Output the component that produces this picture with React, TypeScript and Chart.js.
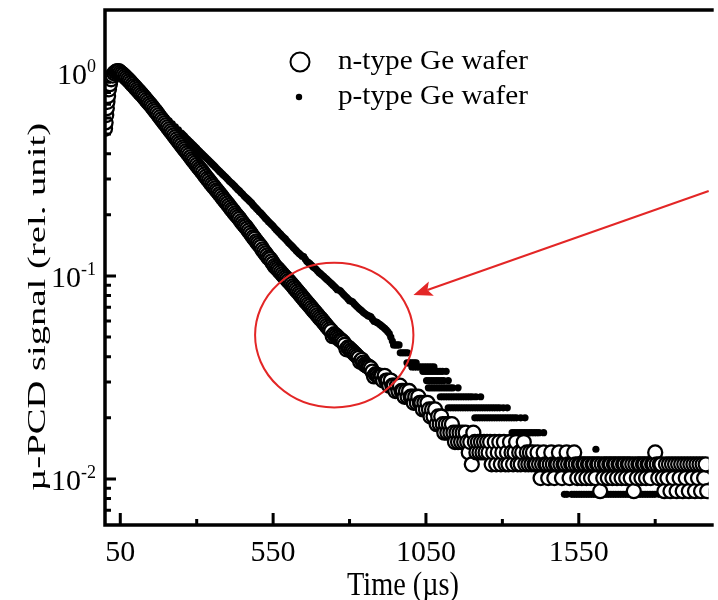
import { useEffect, useRef } from "react";
import { Chart, registerables } from "chart.js";

Chart.register(...registerables);

// ---- data (time in µs, µ-PCD signal in rel. units) ----
const nTypePoints: [number, number][] = [
  [0, 0.53], [2, 0.57], [4, 0.62], [6, 0.67], [8, 0.72], [10, 0.77], [13, 0.83], [16, 0.88], [20, 0.93], [25, 0.97],
  [30, 0.995], [35, 1.01], [40, 1.02], [45, 1.02], [50, 1.005], [55, 0.99],
  [60, 0.977], [65, 0.96], [70, 0.944], [75, 0.928], [80, 0.912], [85, 0.894], [90, 0.877], [95, 0.861], [100, 0.845], [105, 0.829],
  [110, 0.813], [115, 0.797], [120, 0.782], [125, 0.767], [130, 0.752], [135, 0.736], [140, 0.721], [145, 0.706], [150, 0.692], [155, 0.677],
  [160, 0.662], [165, 0.648], [170, 0.634], [175, 0.619], [180, 0.605], [185, 0.591], [190, 0.578], [195, 0.565], [200, 0.553], [205, 0.54],
  [210, 0.528], [215, 0.516], [220, 0.505], [225, 0.493], [230, 0.482], [235, 0.471], [240, 0.46], [245, 0.45], [250, 0.44], [255, 0.43],
  [260, 0.421], [265, 0.412], [270, 0.403], [275, 0.394], [280, 0.385], [285, 0.376], [290, 0.368], [295, 0.36], [300, 0.352], [305, 0.344],
  [310, 0.337], [315, 0.33], [320, 0.323], [325, 0.315], [330, 0.308], [335, 0.301], [340, 0.295], [345, 0.288], [350, 0.282], [355, 0.276],
  [360, 0.27], [365, 0.264], [370, 0.259], [375, 0.253], [380, 0.248], [385, 0.242], [390, 0.237], [395, 0.232], [400, 0.227], [405, 0.222],
  [410, 0.217], [415, 0.212], [420, 0.208], [425, 0.203], [430, 0.199], [435, 0.195], [440, 0.191], [445, 0.186], [450, 0.182], [455, 0.178],
  [460, 0.175], [465, 0.171], [470, 0.167], [475, 0.163], [480, 0.159], [485, 0.155], [490, 0.152], [495, 0.148], [500, 0.145], [505, 0.142],
  [510, 0.139], [515, 0.135], [520, 0.132], [525, 0.129], [530, 0.126], [535, 0.123], [540, 0.121], [545, 0.118], [550, 0.115], [555, 0.112],
  [560, 0.11], [565, 0.108], [570, 0.106], [575, 0.104], [580, 0.102], [585, 0.1], [590, 0.0982], [595, 0.0964], [600, 0.0946], [605, 0.0928],
  [610, 0.091], [615, 0.0891], [620, 0.0873], [625, 0.0855], [630, 0.0838], [635, 0.0821], [640, 0.0804], [645, 0.0787], [650, 0.0771], [655, 0.0755],
  [660, 0.074], [665, 0.0725], [670, 0.0711], [675, 0.0696], [680, 0.0682], [685, 0.0668], [690, 0.0655], [695, 0.0641], [700, 0.0628], [705, 0.0616],
  [710, 0.0604], [715, 0.0591], [720, 0.0579], [725, 0.0567], [730, 0.0556], [735, 0.0545], [740, 0.0535], [745, 0.0505], [750, 0.0516], [755, 0.0508],
  [760, 0.05], [765, 0.0491], [770, 0.0483], [775, 0.0478], [780, 0.047], [785, 0.0458], [790, 0.0435], [795, 0.0444], [800, 0.0438], [805, 0.043],
  [810, 0.0423], [815, 0.0416], [820, 0.0409], [825, 0.0402], [830, 0.0395], [835, 0.0378], [840, 0.0386], [845, 0.0374], [850, 0.0366], [855, 0.0362],
  [860, 0.0358], [865, 0.0355], [870, 0.035], [875, 0.0338], [880, 0.032], [885, 0.0328], [890, 0.0325], [895, 0.032], [900, 0.0316],
  [905, 0.0322], [910, 0.0305], [915, 0.0322], [920, 0.0305], [925, 0.0305], [930, 0.0288], [935, 0.0305], [940, 0.0288], [945, 0.0288], [950, 0.0271],
  [955, 0.0288], [960, 0.0271], [965, 0.0288], [970, 0.0271], [975, 0.0271], [980, 0.0254], [985, 0.0271], [990, 0.0254], [995, 0.0271], [1000, 0.0254],
  [1005, 0.0254], [1010, 0.0237], [1015, 0.0254], [1020, 0.0237], [1025, 0.0254], [1030, 0.0237], [1035, 0.0237], [1040, 0.022], [1045, 0.0237], [1050, 0.022],
  [1055, 0.0237], [1060, 0.022], [1065, 0.0203], [1070, 0.022], [1075, 0.0203], [1080, 0.022], [1085, 0.0186], [1090, 0.0203], [1095, 0.0186], [1100, 0.0203],
  [1105, 0.0186], [1110, 0.0169], [1115, 0.0186], [1120, 0.0169], [1125, 0.0186], [1130, 0.0169], [1135, 0.0186], [1140, 0.0169], [1145, 0.0152], [1150, 0.0169],
  [1155, 0.0152], [1160, 0.0169], [1165, 0.0152], [1170, 0.0169], [1175, 0.0152], [1180, 0.0169], [1185, 0.0152], [1190, 0.0135], [1195, 0.0152], [1200, 0.0118],
  [1205, 0.0169], [1210, 0.0152], [1215, 0.0135], [1220, 0.0152], [1225, 0.0135], [1230, 0.0152], [1235, 0.0135], [1240, 0.0152], [1245, 0.0135], [1250, 0.0152],
  [1255, 0.0135], [1260, 0.0152], [1265, 0.0118], [1270, 0.0135], [1275, 0.0152], [1280, 0.0118], [1285, 0.0135], [1290, 0.0152], [1295, 0.0118], [1300, 0.0135],
  [1305, 0.0152], [1310, 0.0118], [1315, 0.0135], [1320, 0.0118], [1325, 0.0152], [1330, 0.0135], [1335, 0.0118], [1340, 0.0135], [1345, 0.0152], [1350, 0.0118],
  [1355, 0.0135], [1360, 0.0118], [1365, 0.0135], [1370, 0.0152], [1375, 0.0118], [1380, 0.0135], [1385, 0.0118], [1390, 0.0135], [1395, 0.0118], [1400, 0.0135],
  [1405, 0.0118], [1410, 0.0118], [1415, 0.0135], [1420, 0.0118], [1425, 0.0101], [1430, 0.0118], [1435, 0.0135], [1440, 0.0118], [1445, 0.0118], [1450, 0.0101],
  [1455, 0.0118], [1460, 0.0135], [1465, 0.0118], [1470, 0.0101], [1475, 0.0118], [1480, 0.0118], [1485, 0.0135], [1490, 0.0118], [1495, 0.0101], [1500, 0.0118],
  [1505, 0.0118], [1510, 0.0135], [1515, 0.0118], [1520, 0.0101], [1525, 0.0118], [1530, 0.0118], [1535, 0.0135], [1540, 0.0118], [1545, 0.0101], [1550, 0.0118],
  [1555, 0.0118], [1560, 0.0101], [1565, 0.0118], [1570, 0.0118], [1575, 0.0101], [1580, 0.0118], [1585, 0.0118], [1590, 0.0101], [1595, 0.0118], [1600, 0.0118],
  [1605, 0.0101], [1610, 0.0118], [1615, 0.0118], [1620, 0.0087], [1625, 0.0118], [1630, 0.0101], [1635, 0.0118], [1640, 0.0118], [1645, 0.0101], [1650, 0.0118],
  [1655, 0.0118], [1660, 0.0101], [1665, 0.0118], [1670, 0.0118], [1675, 0.0101], [1680, 0.0118], [1685, 0.0118], [1690, 0.0101], [1695, 0.0118], [1700, 0.0118],
  [1705, 0.0101], [1710, 0.0118], [1715, 0.0118], [1720, 0.0101], [1725, 0.0118], [1730, 0.0087], [1735, 0.0118], [1740, 0.0101], [1745, 0.0118], [1750, 0.0118],
  [1755, 0.0101], [1760, 0.0118], [1765, 0.0118], [1770, 0.0101], [1775, 0.0118], [1780, 0.0118], [1785, 0.0101], [1790, 0.0118], [1795, 0.0118], [1800, 0.0135],
  [1805, 0.0118], [1810, 0.0101], [1815, 0.0118], [1820, 0.0118], [1825, 0.0101], [1830, 0.0087], [1835, 0.0118], [1840, 0.0101], [1845, 0.0118], [1850, 0.0087],
  [1855, 0.0118], [1860, 0.0101], [1865, 0.0118], [1870, 0.0087], [1875, 0.0118], [1880, 0.0101], [1885, 0.0118], [1890, 0.0087], [1895, 0.0118], [1900, 0.0101],
  [1905, 0.0118], [1910, 0.0087], [1915, 0.0118], [1920, 0.0101], [1925, 0.0118], [1930, 0.0087], [1935, 0.0118], [1940, 0.0101], [1945, 0.0118], [1950, 0.0087],
  [1955, 0.0118], [1960, 0.0101], [1965, 0.0118], [1970, 0.0087],
];

const pTypePoints: [number, number][] = [
  [0, 0.55], [5, 0.65], [10, 0.76], [15, 0.85], [20, 0.91], [30, 0.97], [40, 1.0], [50, 0.995],
  [60, 0.973], [70, 0.942], [80, 0.91], [90, 0.879], [100, 0.849], [110, 0.82], [120, 0.792], [130, 0.766], [140, 0.74], [150, 0.715],
  [160, 0.69], [170, 0.667], [180, 0.644], [190, 0.622], [200, 0.601], [210, 0.581], [220, 0.561], [230, 0.542], [240, 0.524],
  [250, 0.505], [255, 0.496], [260, 0.488], [265, 0.479], [270, 0.471], [275, 0.463], [280, 0.455], [285, 0.447], [290, 0.44], [295, 0.432],
  [300, 0.425], [305, 0.417], [310, 0.41], [315, 0.403], [320, 0.396], [325, 0.389], [330, 0.383], [335, 0.376], [340, 0.37], [345, 0.363],
  [350, 0.357], [355, 0.351], [360, 0.345], [365, 0.339], [370, 0.333], [375, 0.327], [380, 0.322], [385, 0.316], [390, 0.311], [395, 0.306],
  [400, 0.301], [405, 0.295], [410, 0.29], [415, 0.286], [420, 0.281], [425, 0.276], [430, 0.271], [435, 0.266], [440, 0.262], [445, 0.257],
  [450, 0.253], [455, 0.248], [460, 0.244], [465, 0.24], [470, 0.236], [475, 0.232], [480, 0.228], [485, 0.223], [490, 0.219], [495, 0.215],
  [500, 0.211], [505, 0.207], [510, 0.204], [515, 0.2], [520, 0.196], [525, 0.192], [530, 0.189], [535, 0.185], [540, 0.182], [545, 0.179],
  [550, 0.176], [555, 0.172], [560, 0.169], [565, 0.166], [570, 0.163], [575, 0.16], [580, 0.157], [585, 0.1545], [590, 0.152], [595, 0.149],
  [600, 0.146], [605, 0.1435], [610, 0.141], [615, 0.1385], [620, 0.136], [625, 0.1335], [630, 0.131], [635, 0.129], [640, 0.127], [645, 0.125],
  [650, 0.1245], [655, 0.121], [660, 0.118], [665, 0.1165], [670, 0.115], [675, 0.113], [680, 0.111], [685, 0.1095], [690, 0.108], [695, 0.106],
  [700, 0.104], [705, 0.1025], [710, 0.101], [715, 0.0995], [720, 0.0979], [725, 0.0963], [730, 0.0948], [735, 0.0933], [740, 0.0918], [745, 0.0903],
  [750, 0.0889], [755, 0.0872], [760, 0.0855], [765, 0.0852], [770, 0.0845], [775, 0.0828], [780, 0.0811], [785, 0.0798], [790, 0.0785], [795, 0.077],
  [800, 0.0755], [805, 0.0752], [810, 0.0745], [815, 0.073], [820, 0.0716], [825, 0.0704], [830, 0.0693], [835, 0.0683], [840, 0.0673], [845, 0.0662],
  [850, 0.0652], [855, 0.0645], [860, 0.0637], [865, 0.0633], [870, 0.0628], [875, 0.0612], [880, 0.0598], [885, 0.0594], [890, 0.059], [895, 0.0582],
  [900, 0.0575], [905, 0.0567], [910, 0.056], [915, 0.0551], [920, 0.0542], [925, 0.0531], [930, 0.052], [935, 0.0499], [940, 0.0478],
  [944, 0.0457], [950, 0.0457], [956, 0.0457], [962, 0.0457],
  [966, 0.0418], [972, 0.0418], [978, 0.0418], [984, 0.0418], [990, 0.0418],
  [988, 0.0373], [994, 0.0373], [1000, 0.0373], [1006, 0.0373], [1012, 0.0373], [1018, 0.0373],
  [1004, 0.0356], [1012, 0.0356], [1020, 0.0356], [1028, 0.0356], [1036, 0.0356], [1044, 0.0356], [1052, 0.0356], [1060, 0.0356], [1068, 0.0356], [1076, 0.0356],
  [1040, 0.0339], [1048, 0.0339], [1056, 0.0339], [1064, 0.0339], [1072, 0.0339], [1080, 0.0339], [1088, 0.0339], [1096, 0.0339], [1104, 0.0339], [1116, 0.0339],
  [1052, 0.0305], [1060, 0.0305], [1068, 0.0305], [1076, 0.0305], [1084, 0.0305], [1092, 0.0305], [1100, 0.0305], [1108, 0.0305], [1123, 0.0305],
  [1058, 0.0281], [1066, 0.0281], [1074, 0.0281], [1082, 0.0281], [1090, 0.0281], [1098, 0.0281], [1106, 0.0281], [1114, 0.0281], [1122, 0.0281], [1130, 0.0281],
  [1138, 0.0281], [1155, 0.0281],
  [1097, 0.0254], [1105, 0.0254], [1113, 0.0254], [1121, 0.0254], [1129, 0.0254], [1137, 0.0254], [1145, 0.0254], [1153, 0.0254], [1161, 0.0254], [1169, 0.0254],
  [1177, 0.0254], [1185, 0.0254], [1193, 0.0254], [1201, 0.0254], [1213, 0.0254], [1229, 0.0254],
  [1123, 0.0224], [1131, 0.0224], [1139, 0.0224], [1147, 0.0224], [1155, 0.0224], [1163, 0.0224], [1171, 0.0224], [1179, 0.0224], [1187, 0.0224], [1195, 0.0224],
  [1203, 0.0224], [1211, 0.0224], [1219, 0.0224], [1227, 0.0224], [1235, 0.0224], [1243, 0.0224], [1251, 0.0224], [1259, 0.0224], [1267, 0.0224], [1275, 0.0224],
  [1283, 0.0224], [1291, 0.0224], [1303, 0.0224], [1316, 0.0224],
  [1210, 0.02], [1218, 0.02], [1226, 0.02], [1234, 0.02], [1242, 0.02], [1250, 0.02], [1258, 0.02], [1266, 0.02], [1274, 0.02], [1282, 0.02],
  [1290, 0.02], [1298, 0.02], [1306, 0.02], [1314, 0.02], [1322, 0.02], [1330, 0.02], [1338, 0.02], [1346, 0.02], [1360, 0.02], [1374, 0.02],
  [1332, 0.0169], [1340, 0.0169], [1348, 0.0169], [1356, 0.0169], [1364, 0.0169], [1372, 0.0169], [1380, 0.0169], [1388, 0.0169], [1396, 0.0169], [1404, 0.0169],
  [1412, 0.0169], [1420, 0.0169], [1435, 0.0169],
  [1606, 0.014],
  [1503, 0.0084], [1511, 0.0084], [1527, 0.0084], [1535, 0.0084], [1543, 0.0084], [1551, 0.0084], [1559, 0.0084], [1567, 0.0084], [1575, 0.0084], [1583, 0.0084],
  [1591, 0.0084], [1599, 0.0084], [1607, 0.0084], [1615, 0.0084], [1623, 0.0084], [1631, 0.0084], [1639, 0.0084], [1647, 0.0084], [1655, 0.0084], [1663, 0.0084],
  [1671, 0.0084], [1679, 0.0084], [1687, 0.0084], [1695, 0.0084], [1703, 0.0084], [1711, 0.0084], [1719, 0.0084], [1727, 0.0084], [1735, 0.0084], [1743, 0.0084],
  [1751, 0.0084], [1759, 0.0084], [1767, 0.0084], [1775, 0.0084], [1783, 0.0084], [1791, 0.0084], [1799, 0.0084], [1812, 0.0084], [1830, 0.0084], [1845, 0.0084],
  [1860, 0.0084], [1875, 0.0084], [1890, 0.0084], [1905, 0.0084], [1920, 0.0084], [1935, 0.0084], [1950, 0.0084], [1965, 0.0084],
];

const seriesLabels = ["n-type Ge wafer", "p-type Ge wafer"];
const xTitle = "Time (\u00B5s)";
const yTitle = "\u00B5-PCD signal (rel. unit)";

const xRange = [0, 1975];
const yRange = [0.00593, 2.04];
const xMajorTicks = [50, 550, 1050, 1550];
const xMinorTicks = [300, 800, 1300, 1800];
const yMajorTicks = [1, 0.1, 0.01];
const yMajorExponents = ["0", "-1", "-2"];
const yMinorTicks = [
  0.9, 0.8, 0.7, 0.6, 0.5, 0.4, 0.3, 0.2,
  0.09, 0.08, 0.07, 0.06, 0.05, 0.04, 0.03, 0.02,
  0.009, 0.008, 0.007,
];

// annotation: red ellipse (data bounds) and arrow (data endpoints)
const ellipseTime = [491, 1009];
const ellipseSignal = [0.0225, 0.116];
const arrowFrom = [1975, 0.262];
const arrowTo = [1009, 0.0806];

const FONT = '"Liberation Serif", "Times New Roman", serif';
const RED = "#e32626";

function drawText(
  ctx: CanvasRenderingContext2D,
  text: string,
  x: number,
  y: number,
  size: number,
  align: "left" | "center" | "right",
  targetWidth?: number,
  rotate?: number
) {
  ctx.save();
  ctx.font = `${size}px ${FONT}`;
  ctx.fillStyle = "#000";
  ctx.textBaseline = "alphabetic";
  ctx.textAlign = "left";
  const w = ctx.measureText(text).width;
  const sx = targetWidth ? targetWidth / w : 1;
  ctx.translate(x, y);
  if (rotate) ctx.rotate(rotate);
  ctx.scale(sx, 1);
  const off = align === "center" ? -w / 2 : align === "right" ? -w : 0;
  ctx.fillText(text, off, 0);
  ctx.restore();
}

const decorPlugin = {
  id: "decor",
  afterDatasetsDraw(chart: any) {
    const { ctx } = chart;
    const xs = chart.scales.x;
    const ys = chart.scales.y;
    ctx.save();
    ctx.strokeStyle = RED;
    ctx.fillStyle = RED;
    ctx.lineWidth = 2;
    const l = xs.getPixelForValue(ellipseTime[0]);
    const r = xs.getPixelForValue(ellipseTime[1]);
    const t = ys.getPixelForValue(ellipseSignal[1]);
    const b = ys.getPixelForValue(ellipseSignal[0]);
    ctx.beginPath();
    ctx.ellipse((l + r) / 2, (t + b) / 2, (r - l) / 2, (b - t) / 2, 0, 0, Math.PI * 2);
    ctx.stroke();
    const x0 = xs.getPixelForValue(arrowFrom[0]);
    const y0 = ys.getPixelForValue(arrowFrom[1]);
    const x1 = xs.getPixelForValue(arrowTo[0]);
    const y1 = ys.getPixelForValue(arrowTo[1]);
    const ang = Math.atan2(y1 - y0, x1 - x0);
    const cos = Math.cos(ang);
    const sin = Math.sin(ang);
    const headLen = 19;
    const headW = 7.5;
    const bx = x1 - headLen * cos;
    const by = y1 - headLen * sin;
    const nx = x1 - headLen * 0.78 * cos;
    const ny = y1 - headLen * 0.78 * sin;
    ctx.beginPath();
    ctx.moveTo(x0, y0);
    ctx.lineTo(nx, ny);
    ctx.stroke();
    ctx.beginPath();
    ctx.moveTo(x1, y1);
    ctx.lineTo(bx + headW * sin, by - headW * cos);
    ctx.lineTo(nx, ny);
    ctx.lineTo(bx - headW * sin, by + headW * cos);
    ctx.closePath();
    ctx.fill();
    ctx.restore();
  },
  afterDraw(chart: any) {
    const { ctx, chartArea } = chart;
    const xs = chart.scales.x;
    const ys = chart.scales.y;
    const L = chartArea.left;
    const T = chartArea.top;
    const B = chartArea.bottom;
    const R = chartArea.right;
    ctx.save();
    ctx.strokeStyle = "#000";
    ctx.lineWidth = 3.5;
    ctx.lineJoin = "miter";
    ctx.lineCap = "butt";
    ctx.beginPath();
    ctx.moveTo(R + 5, T);
    ctx.lineTo(L, T);
    ctx.lineTo(L, B);
    ctx.lineTo(R + 5, B);
    ctx.stroke();
    ctx.lineWidth = 3;
    ctx.beginPath();
    for (const v of xMajorTicks) {
      const px = xs.getPixelForValue(v);
      ctx.moveTo(px, B);
      ctx.lineTo(px, B - 12);
    }
    for (const v of xMinorTicks) {
      const px = xs.getPixelForValue(v);
      ctx.moveTo(px, B);
      ctx.lineTo(px, B - 6);
    }
    for (const v of yMajorTicks) {
      const py = ys.getPixelForValue(v);
      ctx.moveTo(L, py);
      ctx.lineTo(L + 11, py);
    }
    for (const v of yMinorTicks) {
      const py = ys.getPixelForValue(v);
      ctx.moveTo(L, py);
      ctx.lineTo(L + 6, py);
    }
    ctx.stroke();
    ctx.restore();

    for (const v of xMajorTicks) {
      drawText(ctx, String(v), xs.getPixelForValue(v), 561, 30, "center");
    }
    yMajorTicks.forEach((v, i) => {
      const py = ys.getPixelForValue(v);
      const base = py + 11;
      const right = 96;
      ctx.save();
      ctx.font = `18px ${FONT}`;
      const supW = ctx.measureText(yMajorExponents[i]).width;
      ctx.font = `30px ${FONT}`;
      const mainW = ctx.measureText("10").width;
      ctx.restore();
      drawText(ctx, "10", right - supW - mainW, base, 30, "left");
      drawText(ctx, yMajorExponents[i], right - supW, base - 12, 18, "left");
    });

    drawText(ctx, xTitle, 403, 595, 34, "center", 112);
    drawText(ctx, yTitle, 45, 307, 25, "center", 368, -Math.PI / 2);

    ctx.save();
    ctx.beginPath();
    ctx.arc(300, 62, 9.5, 0, Math.PI * 2);
    ctx.fillStyle = "#fff";
    ctx.fill();
    ctx.lineWidth = 2;
    ctx.strokeStyle = "#000";
    ctx.stroke();
    ctx.beginPath();
    ctx.arc(299, 97, 3.2, 0, Math.PI * 2);
    ctx.fillStyle = "#000";
    ctx.fill();
    ctx.restore();
    drawText(ctx, seriesLabels[0], 338, 69, 27, "left", 190);
    drawText(ctx, seriesLabels[1], 338, 104, 27, "left", 190);
  },
};

export default function App() {
  const canvasRef = useRef<HTMLCanvasElement | null>(null);

  useEffect(() => {
    const canvas = canvasRef.current;
    if (!canvas) return;
    const chart = new Chart(canvas, {
      type: "scatter",
      data: {
        datasets: [
          {
            label: seriesLabels[0],
            data: nTypePoints.map(([x, y]) => ({ x, y })),
            pointStyle: "circle",
            pointRadius: 7,
            pointBorderWidth: 2.3,
            pointBorderColor: "#000",
            pointBackgroundColor: "#fff",
            order: 0,
            clip: 0,
          } as any,
          {
            label: seriesLabels[1],
            data: pTypePoints.map(([x, y]) => ({ x, y })),
            pointStyle: "circle",
            pointRadius: 3.6,
            pointBorderWidth: 0,
            pointBorderColor: "#000",
            pointBackgroundColor: "#000",
            order: 1,
            clip: 0,
          } as any,
        ],
      },
      options: {
        animation: false,
        responsive: false,
        events: [],
        layout: { padding: { left: 105, top: 10, right: 0, bottom: 75 } },
        plugins: {
          legend: { display: false },
          tooltip: { enabled: false },
        },
        scales: {
          x: { type: "linear", min: xRange[0], max: xRange[1], display: false, bounds: "data" },
          y: { type: "logarithmic", min: yRange[0], max: yRange[1], display: false, bounds: "data" },
        },
      },
      plugins: [decorPlugin],
    });
    return () => chart.destroy();
  }, []);

  return (
    <div style={{ position: "absolute", left: 0, top: 0, width: 718, height: 600, background: "#fff", overflow: "hidden" }}>
      <canvas ref={canvasRef} width={718} height={600} style={{ width: 718, height: 600, display: "block" }} />
    </div>
  );
}
